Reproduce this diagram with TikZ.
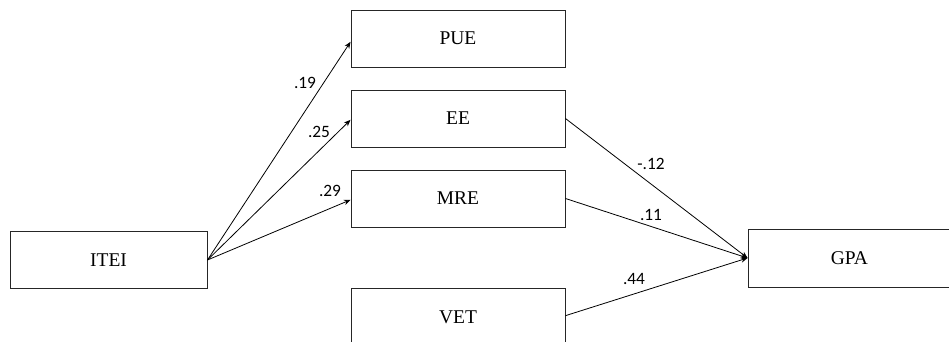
\documentclass[tikz,border=0pt]{standalone}
\usepackage{fontspec}
\setmainfont{Liberation Serif}
\newfontfamily\lblfont{Carlito}
\usetikzlibrary{arrows.meta}
\begin{document}
\begin{tikzpicture}[x=0.75pt,y=-0.75pt,
  varbox/.style={draw=black!85,line width=0.7pt,rectangle,inner sep=0pt,
    minimum height=57*0.75pt,font=\fontsize{14.6}{16}\selectfont},
  path/.style={line width=0.6pt,-{Stealth[length=5pt,width=4pt]}},
  coef/.style={font=\lblfont\fontsize{13}{15}\selectfont,inner sep=0pt}]
\useasboundingbox (0,0) rectangle (949,342);
\clip (0,0) rectangle (949,342);
\fill[white] (0,0) rectangle (949,342);
\node[varbox,minimum width=197*0.75pt] (ITEI) at (108.5,260) {ITEI};
\node[varbox,minimum width=214*0.75pt] (PUE) at (458,38.5) {PUE};
\node[varbox,minimum width=214*0.75pt] (EE) at (458,118.5) {EE};
\node[varbox,minimum width=214*0.75pt] (MRE) at (458,198.5) {MRE};
\node[varbox,minimum width=214*0.75pt] (VET) at (458,317) {VET};
\node[varbox,minimum width=240*0.75pt,minimum height=58*0.75pt] (GPA) at (868,258) {\hspace*{-28pt}GPA};
\draw[path] (ITEI.east) -- ([yshift=-2.5pt]PUE.west);
\draw[path] (ITEI.east) -- ([yshift=-1pt]EE.west);
\draw[path] (ITEI.east) -- ([yshift=-1pt]MRE.west);
\draw[path] (EE.east) -- (GPA.west);
\draw[path] (MRE.east) -- (GPA.west);
\draw[path] ([yshift=1pt]VET.east) -- (GPA.west);
\node[coef] (l1) at (305,83) {.19};
\node[coef] (l2) at (319,132) {.25};
\node[coef] (l3) at (330,191) {.29};
\node[coef] (l4) at (651,164) {-.12};
\node[coef] (l5) at (651,215) {.11};
\node[coef] (l6) at (634,279) {.44};
\end{tikzpicture}
\end{document}
